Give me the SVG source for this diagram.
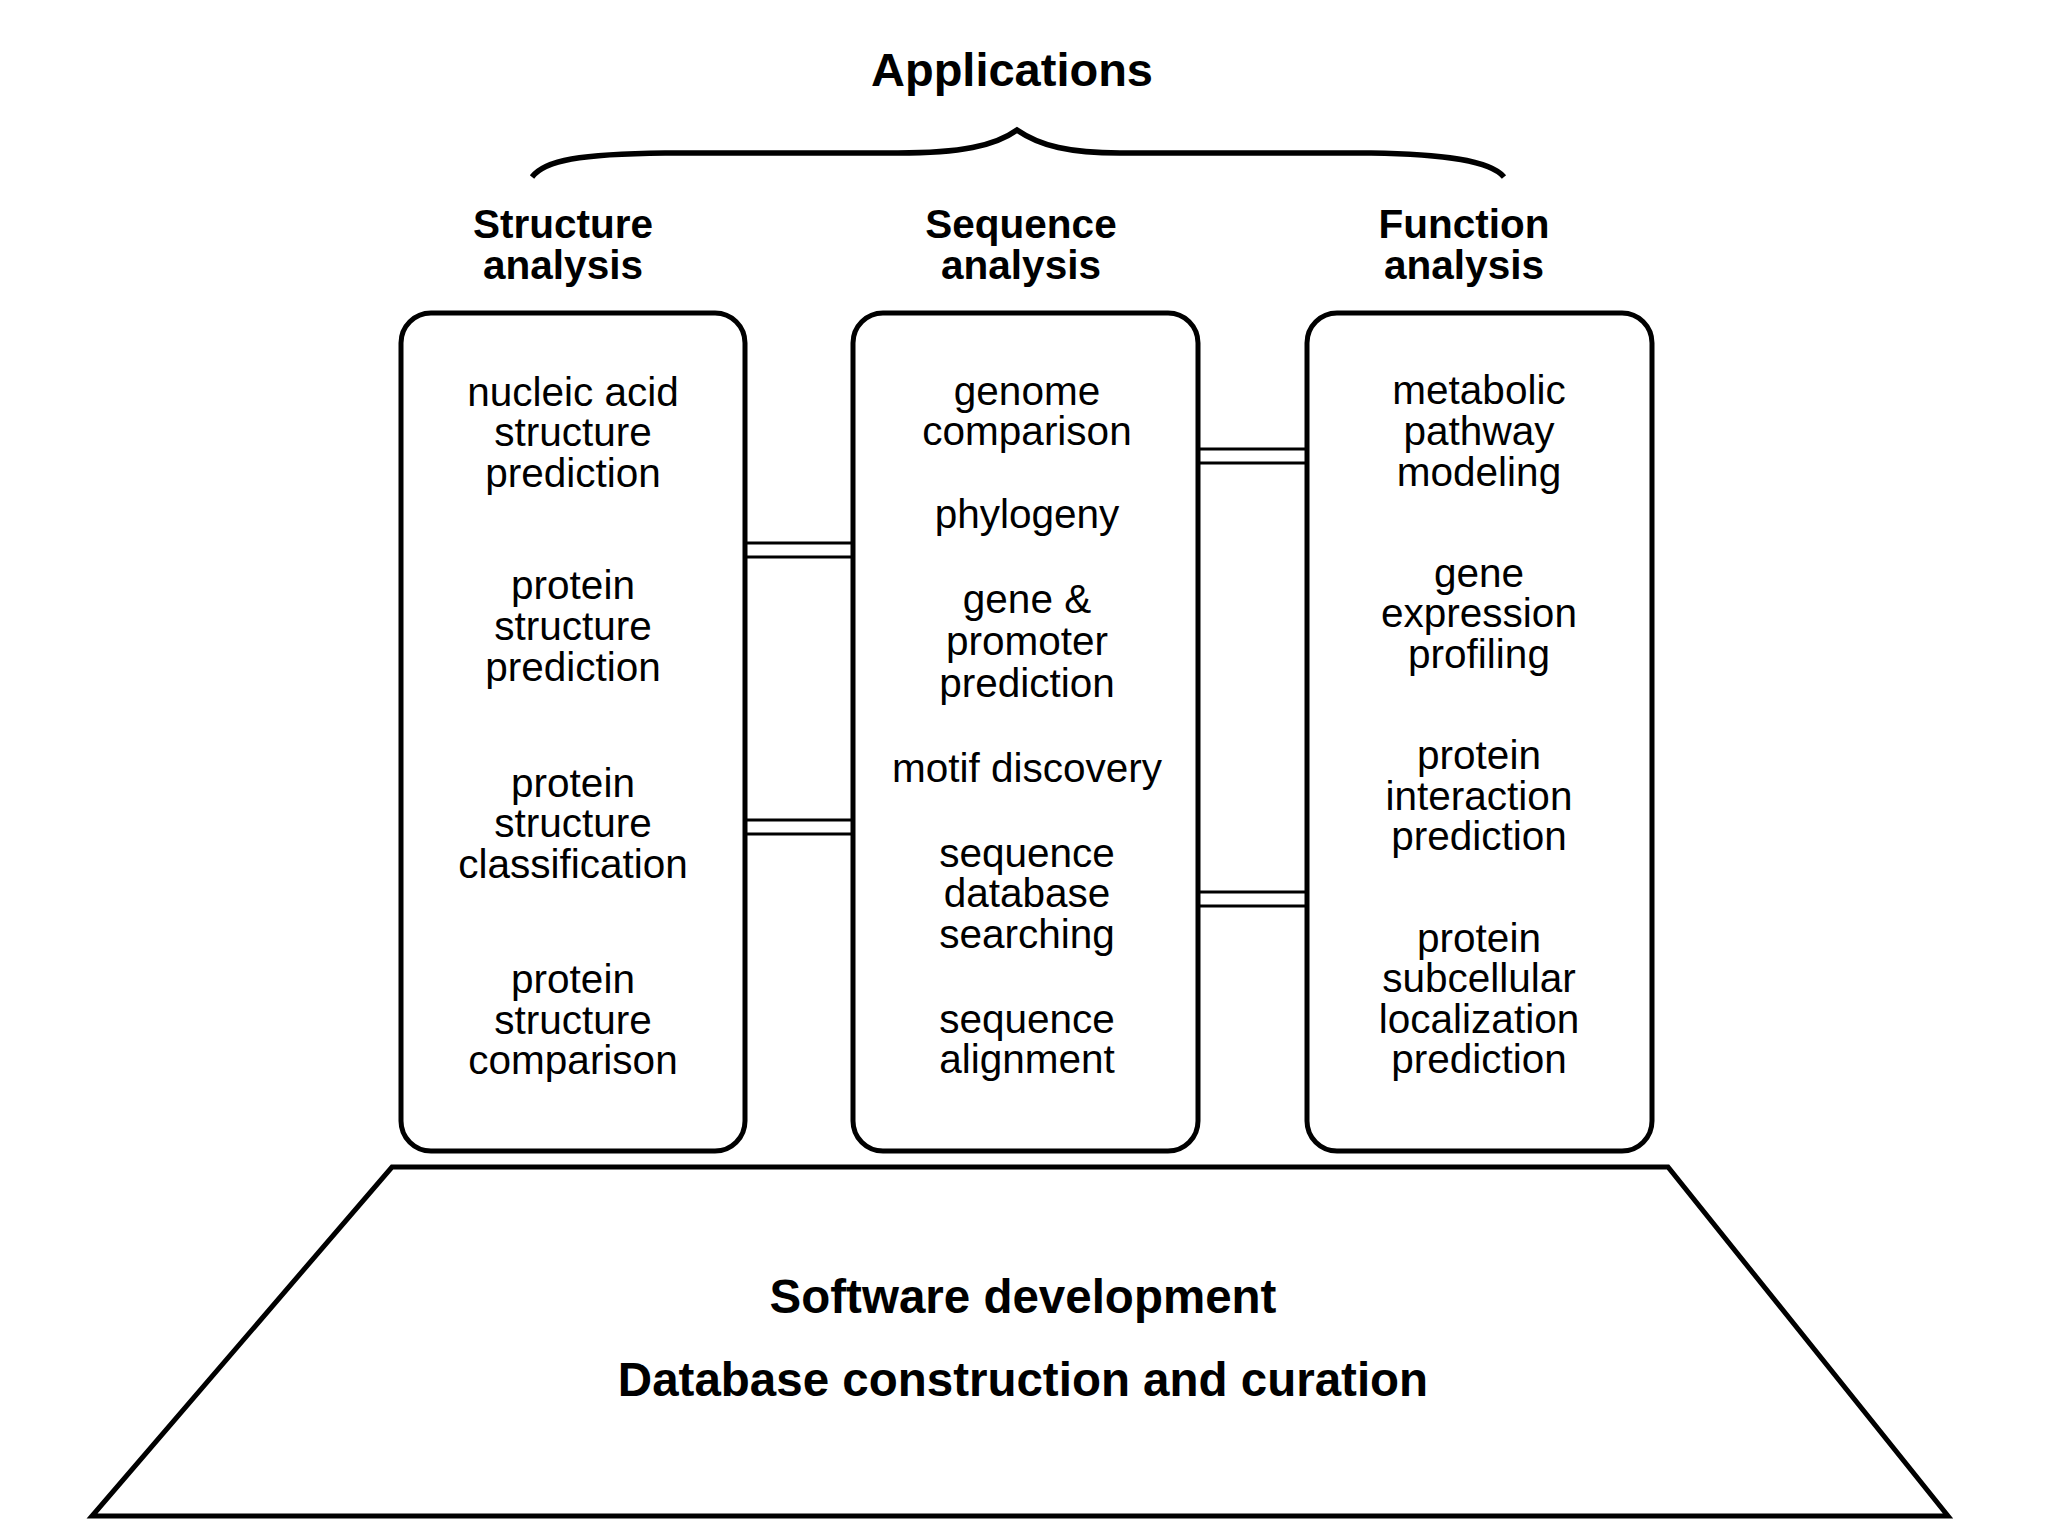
<svg xmlns="http://www.w3.org/2000/svg" width="2048" height="1536" viewBox="0 0 2048 1536">
<style>
.t{font-family:"Liberation Sans",Arial,Helvetica,sans-serif;fill:#000;text-anchor:middle}
.b{font-weight:bold}
.h{font-size:47px}
.c{font-size:40.5px}
.r{font-size:40.5px}
.box{fill:#fff;stroke:#000;stroke-width:5}
.con{stroke:#000;stroke-width:3;fill:none}
</style>
<rect width="2048" height="1536" fill="#fff"/>
<g id="title">
<text class="t b h" x="1012" y="86">Applications</text>
<path d="M532 177 C545 160 580 154 665 153 L898 153 C960 153 995 146 1017 130 C1040 146 1070 153 1120 153 L1371 153 C1440 154 1490 160 1504 177" fill="none" stroke="#000" stroke-width="5.5"/>
</g>
<g id="headers">
<text class="t b c" x="563" y="238">Structure<tspan x="563" dy="41">analysis</tspan></text>
<text class="t b c" x="1021" y="238">Sequence<tspan x="1021" dy="41">analysis</tspan></text>
<text class="t b c" x="1464" y="238">Function<tspan x="1464" dy="41">analysis</tspan></text>
</g>
<g id="connectors">
<line class="con" x1="745" y1="543" x2="853" y2="543"/>
<line class="con" x1="745" y1="557" x2="853" y2="557"/>
<line class="con" x1="745" y1="820" x2="853" y2="820"/>
<line class="con" x1="745" y1="834" x2="853" y2="834"/>
<line class="con" x1="1198" y1="449" x2="1307" y2="449"/>
<line class="con" x1="1198" y1="463" x2="1307" y2="463"/>
<line class="con" x1="1198" y1="892" x2="1307" y2="892"/>
<line class="con" x1="1198" y1="906" x2="1307" y2="906"/>
</g>
<g id="structure">
<rect class="box" x="401" y="313" width="344" height="838" rx="30"/>
<text class="t r" x="573" y="406">nucleic acid<tspan x="573" dy="40">structure</tspan><tspan x="573" dy="41">prediction</tspan></text>
<text class="t r" x="573" y="599">protein<tspan x="573" dy="41">structure</tspan><tspan x="573" dy="41">prediction</tspan></text>
<text class="t r" x="573" y="797">protein<tspan x="573" dy="40">structure</tspan><tspan x="573" dy="41">classification</tspan></text>
<text class="t r" x="573" y="993">protein<tspan x="573" dy="41">structure</tspan><tspan x="573" dy="40">comparison</tspan></text>
</g>
<g id="sequence">
<rect class="box" x="853" y="313" width="345" height="838" rx="30"/>
<text class="t r" x="1027" y="405">genome<tspan x="1027" dy="40">comparison</tspan></text>
<text class="t r" x="1027" y="528">phylogeny</text>
<text class="t r" x="1027" y="613">gene &amp;<tspan x="1027" dy="42">promoter</tspan><tspan x="1027" dy="42">prediction</tspan></text>
<text class="t r" x="1027" y="782">motif discovery</text>
<text class="t r" x="1027" y="867">sequence<tspan x="1027" dy="40">database</tspan><tspan x="1027" dy="41">searching</tspan></text>
<text class="t r" x="1027" y="1033">sequence<tspan x="1027" dy="40">alignment</tspan></text>
</g>
<g id="function">
<rect class="box" x="1307" y="313" width="345" height="838" rx="30"/>
<text class="t r" x="1479" y="404">metabolic<tspan x="1479" dy="41">pathway</tspan><tspan x="1479" dy="41">modeling</tspan></text>
<text class="t r" x="1479" y="587">gene<tspan x="1479" dy="40">expression</tspan><tspan x="1479" dy="41">profiling</tspan></text>
<text class="t r" x="1479" y="769">protein<tspan x="1479" dy="41">interaction</tspan><tspan x="1479" dy="40">prediction</tspan></text>
<text class="t r" x="1479" y="952">protein<tspan x="1479" dy="40">subcellular</tspan><tspan x="1479" dy="41">localization</tspan><tspan x="1479" dy="40">prediction</tspan></text>
</g>
<g id="foundation">
<polygon points="392,1167 1668,1167 1948,1516 92,1516" fill="#fff" stroke="#000" stroke-width="5"/>
<text class="t b" style="font-size:47.5px" x="1023" y="1313">Software development</text>
<text class="t b" style="font-size:47.5px" x="1023" y="1396">Database construction and curation</text>
</g>
</svg>
